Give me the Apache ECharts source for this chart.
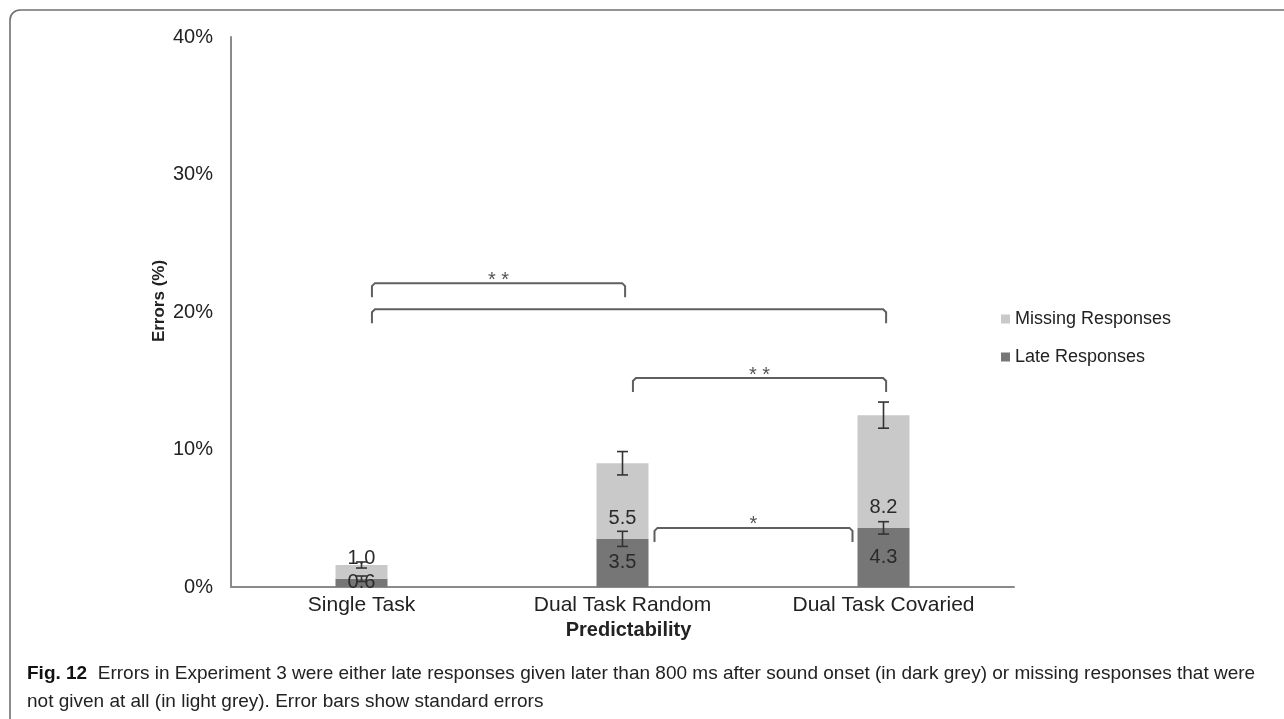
<!DOCTYPE html>
<html>
<head>
<meta charset="utf-8">
<script src="https://cdn.jsdelivr.net/npm/echarts@6/dist/echarts.min.js"></script>
<style>
html,body{margin:0;padding:0;background:#fff;}
#chart{width:1284px;height:719px;}
</style>
</head>
<body>
<div id="chart"></div>
<script>
// ---- data ----
var categories = ['Single Task', 'Dual Task Random', 'Dual Task Covaried'];
var lateResponses = [0.6, 3.5, 4.3];
var missingResponses = [1.0, 5.5, 8.2];
var lateSE = [0.2, 0.55, 0.45];
var missingSE = [0.22, 0.85, 0.95];
var yTicks = [0, 10, 20, 30, 40];
// significance brackets: [fromIndex, toIndex, level (%), label, kind]
var bracketFrom = [0, 0, 1, 1];
var bracketTo = [1, 2, 2, 2];
var bracketLevel = [22.1, 20.2, 15.2, 4.3];
var bracketLabel = ['**', '', '**', '*'];
var bracketKind = ['center', 'center', 'center', 'edge'];

var chart = echarts.init(document.getElementById('chart'));
var FONT = '"Liberation Sans", Arial, sans-serif';
var CAPFONT = '"Liberation Sans Narrow", "Liberation Sans", sans-serif';
var DARK = '#767676', LIGHT = '#c9c9c9';
var BAR_W = 52;

var errData = [];
for (var i = 0; i < categories.length; i++) {
  errData.push([i, lateResponses[i], lateSE[i]]);
  errData.push([i, lateResponses[i] + missingResponses[i], missingSE[i]]);
}
var brData = [];
for (var j = 0; j < bracketFrom.length; j++) {
  brData.push([bracketFrom[j], bracketTo[j], bracketLevel[j], j]);
}

var option = {
  animation: false,
  backgroundColor: '#fff',
  grid: {left: 231, right: 270, top: 37, bottom: 132, containLabel: false},
  legend: {
    orient: 'vertical', left: 996, top: 305,
    data: ['Missing Responses', 'Late Responses'],
    icon: 'rect', itemWidth: 9, itemHeight: 9, itemGap: 20,
    textStyle: {fontFamily: FONT, fontSize: 18, color: '#222'}
  },
  xAxis: {
    type: 'category', data: categories,
    axisLine: {lineStyle: {color: '#8a8a8a', width: 2}},
    axisTick: {show: false},
    axisLabel: {fontFamily: FONT, fontSize: 21, color: '#222', margin: 8},
    name: 'Predictability', nameLocation: 'middle', nameGap: 31,
    nameTextStyle: {fontFamily: FONT, fontSize: 20, fontWeight: 'bold', color: '#222', padding: [0, 0, 0, 12]}
  },
  yAxis: {
    type: 'value', min: yTicks[0], max: yTicks[yTicks.length - 1], interval: 10,
    axisLine: {show: true, lineStyle: {color: '#8a8a8a', width: 2}},
    axisTick: {show: false},
    splitLine: {show: false},
    axisLabel: {formatter: '{value}%', fontFamily: FONT, fontSize: 20, color: '#222', margin: 18}
  },
  series: [
    {
      name: 'Late Responses', type: 'bar', stack: 'e', data: lateResponses,
      barWidth: BAR_W, itemStyle: {color: DARK},
      label: {show: true, position: 'inside', fontFamily: FONT, fontSize: 20, color: '#2a2a2a',
        formatter: function (p) { return p.value.toFixed(1); }}
    },
    {
      name: 'Missing Responses', type: 'bar', stack: 'e', data: missingResponses,
      barWidth: BAR_W, itemStyle: {color: LIGHT},
      label: {show: true, position: 'insideBottom', distance: 10, fontFamily: FONT, fontSize: 20, color: '#2a2a2a',
        formatter: function (p) { return p.value.toFixed(1); }}
    },
    {
      type: 'custom', z: 5, data: errData, silent: true,
      renderItem: function (params, api) {
        var c = api.value(0), v = api.value(1), e = api.value(2);
        var top = api.coord([c, v + e]);
        var bot = api.coord([c, v - e]);
        var hw = 5.5;
        var st = {stroke: '#333', lineWidth: 1.6};
        return {type: 'group', children: [
          {type: 'line', shape: {x1: top[0], y1: top[1], x2: bot[0], y2: bot[1]}, style: st},
          {type: 'line', shape: {x1: top[0] - hw, y1: top[1], x2: top[0] + hw, y2: top[1]}, style: st},
          {type: 'line', shape: {x1: bot[0] - hw, y1: bot[1], x2: bot[0] + hw, y2: bot[1]}, style: st}
        ]};
      }
    },
    {
      type: 'custom', z: 5, data: brData, silent: true,
      renderItem: function (params, api) {
        var a = api.value(0), b = api.value(1), lvl = api.value(2), k = api.value(3);
        var band = api.size([1, 0])[0];
        var p1 = api.coord([a, lvl]), p2 = api.coord([b, lvl]);
        var x1, x2;
        if (bracketKind[k] === 'edge') {
          x1 = p1[0] + BAR_W / 2 + 6; x2 = p2[0] - BAR_W / 2 - 5;
        } else {
          x1 = p1[0] + band * 0.04; x2 = p2[0] + band * 0.01;
        }
        var y = p1[1], drop = 14, r = 3;
        var st = {stroke: '#5f5f5f', lineWidth: 2, fill: null};
        var ch = [{
          type: 'polyline',
          shape: {points: [[x1, y + drop], [x1, y + r], [x1 + r, y], [x2 - r, y], [x2, y + r], [x2, y + drop]]},
          style: st
        }];
        if (bracketLabel[k]) {
          ch.push({type: 'text', style: {text: bracketLabel[k].split('').join(' '), x: (x1 + x2) / 2, y: y - 3,
            align: 'center', verticalAlign: 'middle', fontFamily: FONT, fontSize: 20, fill: '#555'}});
        }
        return {type: 'group', children: ch};
      }
    }
  ],
  graphic: [
    {type: 'rect', shape: {x: 10, y: 10, width: 1400, height: 800, r: 10},
      style: {fill: null, stroke: '#707070', lineWidth: 1.6}, silent: true},
    {type: 'text', x: 159, y: 301, rotation: Math.PI / 2, style: {
      text: 'Errors (%)', align: 'center', verticalAlign: 'middle',
      fontFamily: FONT, fontSize: 17, fontWeight: 'bold', fill: '#222'}},
    {type: 'text', left: 27, top: 664, style: {
      text: '{b|Fig. 12}  Errors in Experiment 3 were either late responses given later than 800 ms after sound onset (in dark grey) or missing responses that were',
      rich: {b: {fontFamily: CAPFONT, fontSize: 19, fontWeight: 'bold', fill: '#111'}},
      fontFamily: CAPFONT, fontSize: 19, fill: '#222'}},
    {type: 'text', left: 27, top: 692, style: {
      text: 'not given at all (in light grey). Error bars show standard errors',
      fontFamily: CAPFONT, fontSize: 19, fill: '#222'}}
  ]
};
chart.setOption(option);
</script>
</body>
</html>
